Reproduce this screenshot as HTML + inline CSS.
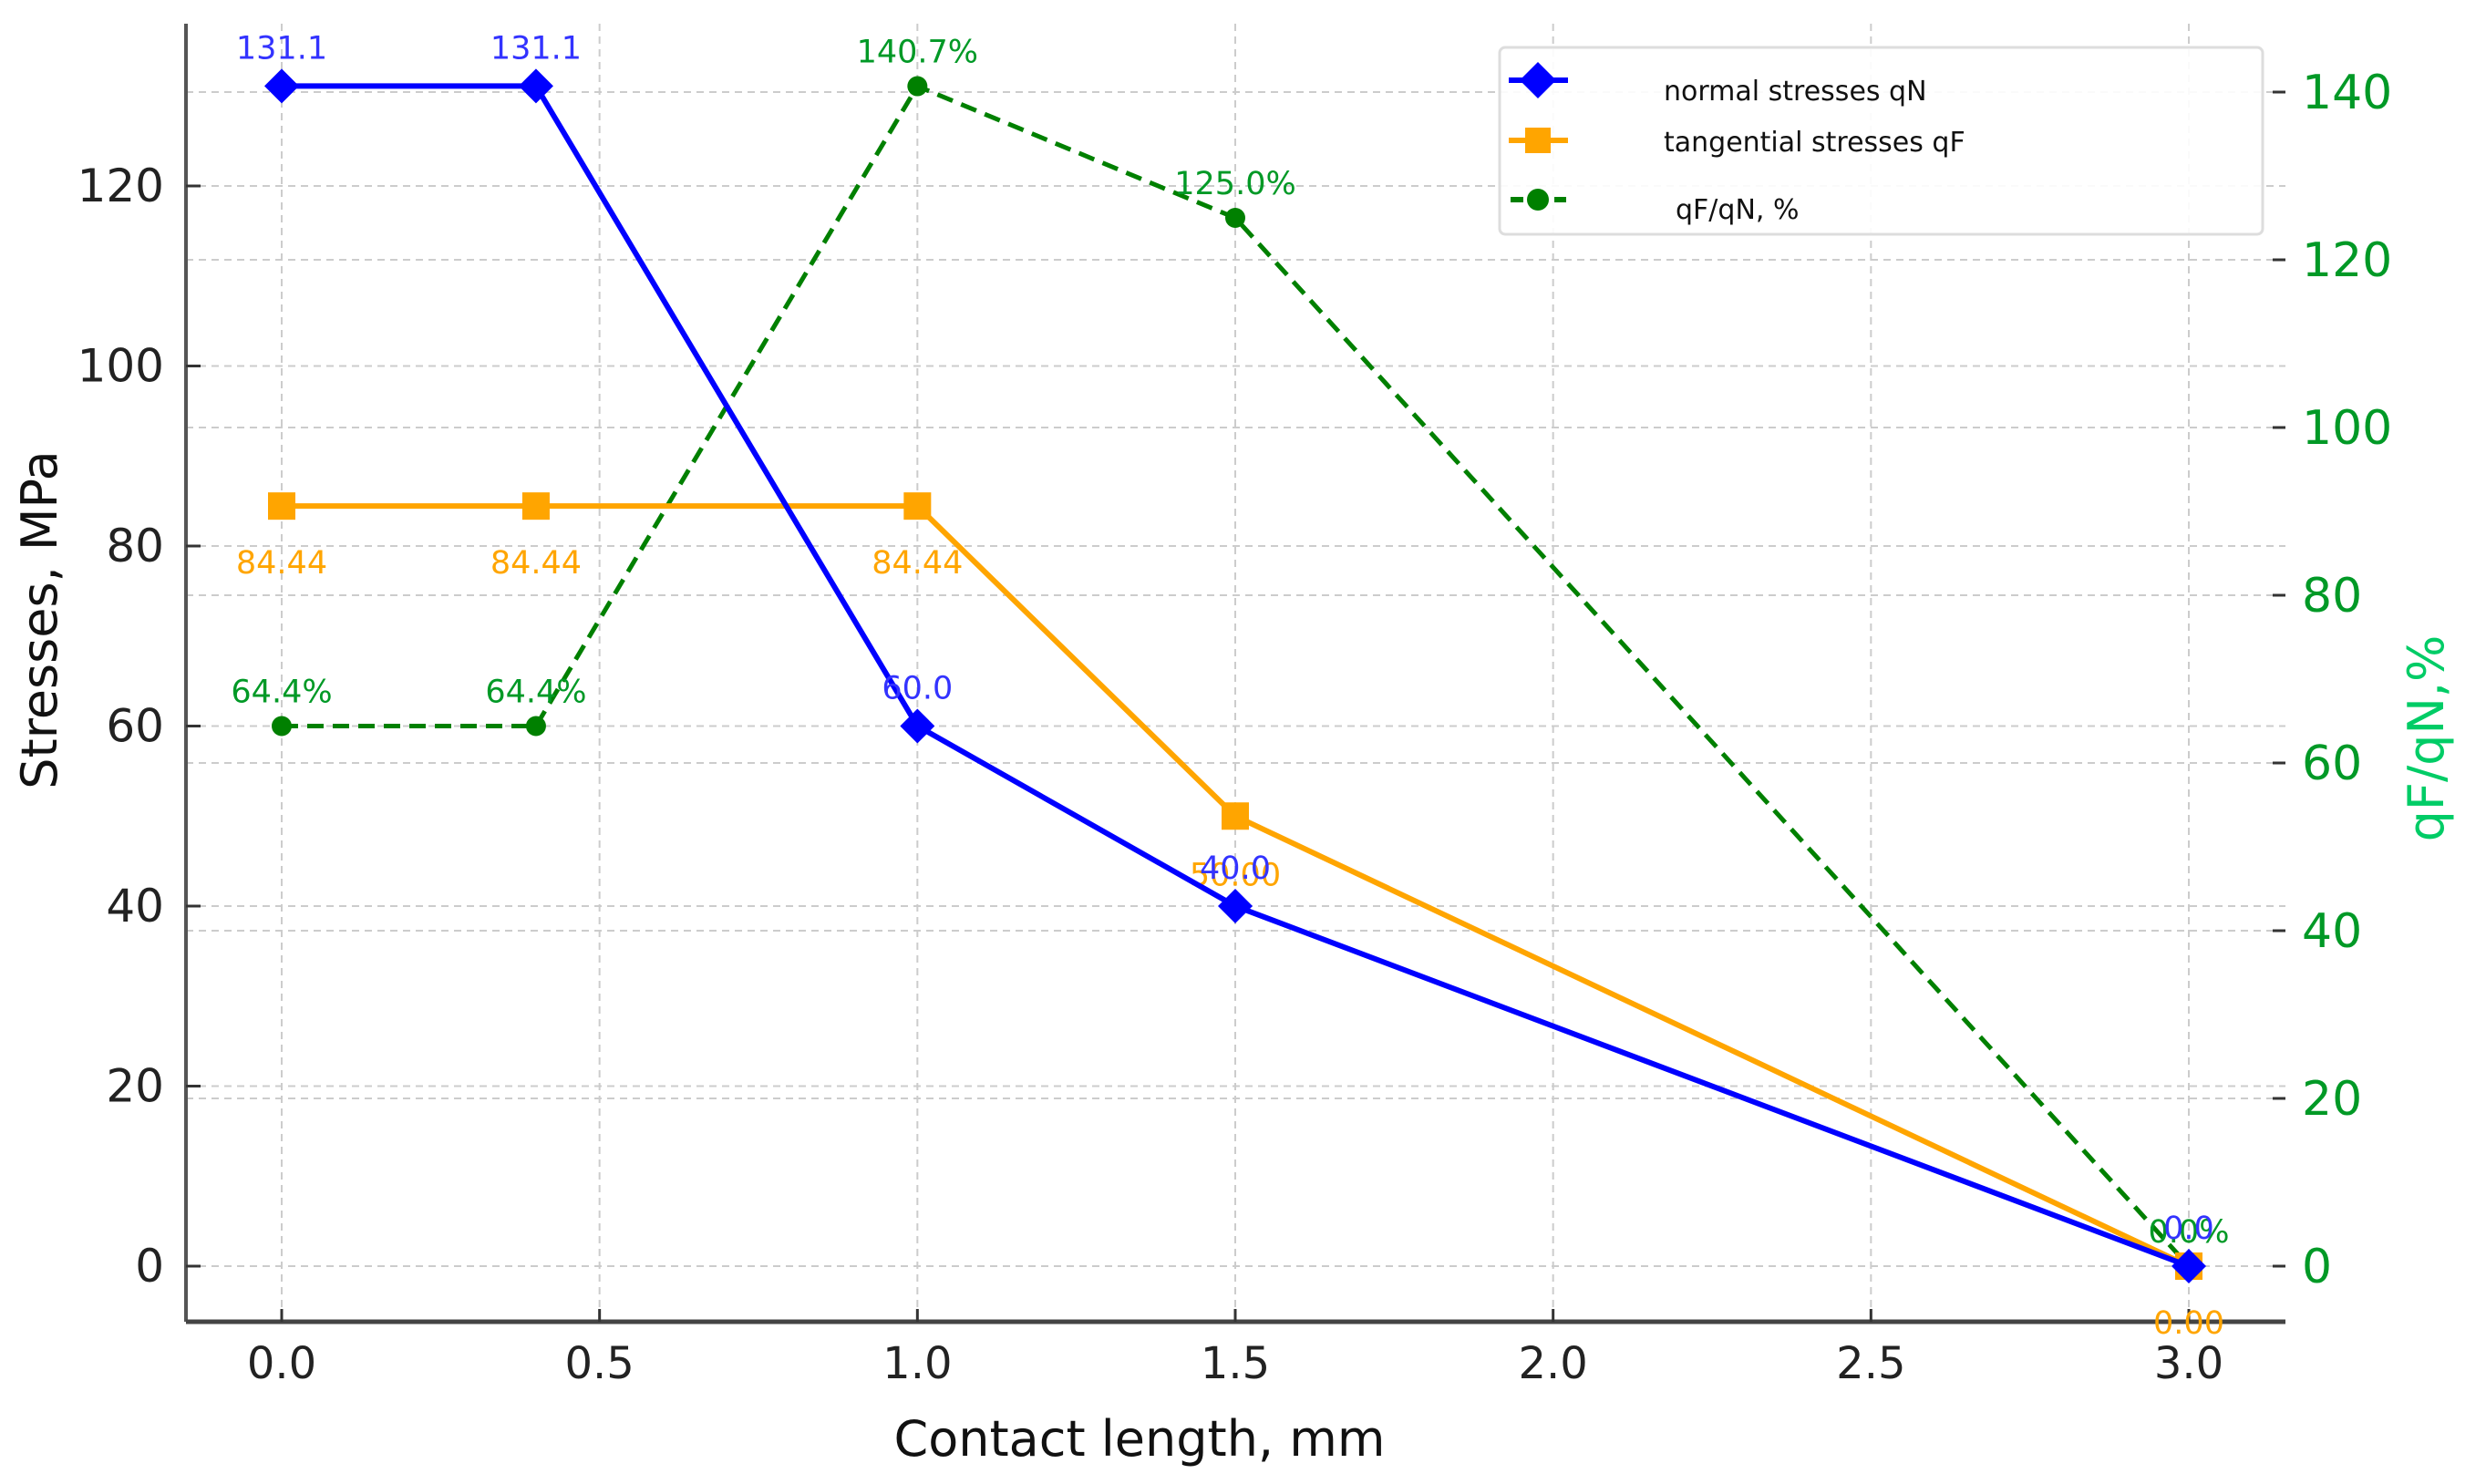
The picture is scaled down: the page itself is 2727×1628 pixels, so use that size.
<!DOCTYPE html>
<html><head><meta charset="utf-8"><style>
html,body{margin:0;padding:0;background:#fff;}
svg{display:block;font-family:"DejaVu Sans","Liberation Sans",sans-serif;}
</style></head><body>
<svg id="chart" width="2727" height="1628" viewBox="0 0 2727 1628" xmlns="http://www.w3.org/2000/svg"></svg>
<script>
const xValues = [0, 0.4, 1.0, 1.5, 3.0];
const normalStress = [131.1, 131.1, 60.0, 40.0, 0.0];
const tangentialStress = [84.44, 84.44, 84.44, 50.0, 0.0];
const ratioPercent = [64.4, 64.4, 140.7, 125.0, 0.0];
const xTicks = [0, 0.5, 1.0, 1.5, 2.0, 2.5, 3.0];
const leftTicks = [0, 20, 40, 60, 80, 100, 120];
const rightTicks = [0, 20, 40, 60, 80, 100, 120, 140];

const svg = document.getElementById('chart');
const NS = 'http://www.w3.org/2000/svg';
const PL = 204, PR = 2507, PT = 26, PB = 1450;
const X = v => 309 + (v - 0) * (2401 - 309) / 3;
const YL = v => 1389 - v * (1389 - 204) / 120;
const YR = v => 1389 - v * (1389 - 101) / 140;

function el(tag, attrs, parent) {
  const e = document.createElementNS(NS, tag);
  for (const k in attrs) e.setAttribute(k, attrs[k]);
  (parent || svg).appendChild(e);
  return e;
}
function txt(s, attrs, parent) { const t = el('text', attrs, parent); t.textContent = s; return t; }

// grid
const grid = el('g', {});


xTicks.forEach(v => el('line', {x1: X(v), x2: X(v), y1: PT, y2: PB, stroke: '#ccc', 'stroke-width': 2, 'stroke-dasharray': '8,6'}, grid));
leftTicks.forEach(v => el('line', {x1: PL, x2: PR, y1: YL(v), y2: YL(v), stroke: '#ccc', 'stroke-width': 2, 'stroke-dasharray': '8,6'}, grid));
rightTicks.forEach(v => el('line', {x1: PL, x2: PR, y1: YR(v), y2: YR(v), stroke: '#ccc', 'stroke-width': 2, 'stroke-dasharray': '8,6'}, grid));

// axes
const axes = el('g', {});


el('line', {x1: PL, x2: PL, y1: PT, y2: PB, stroke: '#555', 'stroke-width': 4}, axes);
el('line', {x1: PL, x2: PR, y1: PB, y2: PB, stroke: '#444', 'stroke-width': 5}, axes);

const xt = el('g', {});


xTicks.forEach(v => {
  el('line', {x1: X(v), x2: X(v), y1: PB - 14, y2: PB, stroke: '#333', 'stroke-width': 3}, xt);
  txt(v.toFixed(1), {x: X(v), y: 1512, 'font-size': 48, 'text-anchor': 'middle', fill: '#222'}, xt);
});
const lt = el('g', {});


leftTicks.forEach(v => {
  el('line', {x1: PL, x2: PL + 16, y1: YL(v), y2: YL(v), stroke: '#333', 'stroke-width': 3}, lt);
  txt(String(v), {x: 180, y: YL(v) + 17, 'font-size': 50, 'text-anchor': 'end', fill: '#222'}, lt);
});
const rt = el('g', {});


rightTicks.forEach(v => {
  el('line', {x1: PR - 14, x2: PR, y1: YR(v), y2: YR(v), stroke: '#333', 'stroke-width': 3}, rt);
  txt(String(v), {x: 2525, y: YR(v) + 18, 'font-size': 52, 'text-anchor': 'start', fill: '#009926'}, rt);
});

const xl = txt('Contact length, mm', {x: 1250, y: 1597, 'font-size': 54, 'text-anchor': 'middle', fill: '#111'});


const yl = txt('Stresses, MPa', {x: 0, y: 0, 'font-size': 54, 'text-anchor': 'middle', fill: '#111', transform: 'translate(62,680) rotate(-90)'});


const yr = txt('qF/qN,%', {x: 0, y: 0, 'font-size': 54, 'text-anchor': 'middle', fill: '#00cc66', transform: 'translate(2680,810) rotate(-90)'});



function diamond(cx, cy, r, fill, parent) {
  return el('polygon', {points: `${cx},${cy - r} ${cx + r},${cy} ${cx},${cy + r} ${cx - r},${cy}`, fill: fill}, parent);
}

// ratio series
const gR = el('g', {});


el('polyline', {points: xValues.map((x, i) => X(x) + ',' + YR(ratioPercent[i])).join(' '), fill: 'none', stroke: '#008000', 'stroke-width': 5, 'stroke-dasharray': '18,10'}, gR);
xValues.forEach((x, i) => {
  const c = el('circle', {cx: X(x), cy: YR(ratioPercent[i]), r: 11, fill: '#008000'}, gR);
  
  
  txt(ratioPercent[i].toFixed(1) + '%', {x: X(x), y: YR(ratioPercent[i]) - 26, 'font-size': 35, 'text-anchor': 'middle', fill: '#009926'}, gR);
});

// tangential series
const gF = el('g', {});


el('polyline', {points: xValues.map((x, i) => X(x) + ',' + YL(tangentialStress[i])).join(' '), fill: 'none', stroke: '#ffa500', 'stroke-width': 6}, gF);
xValues.forEach((x, i) => {
  const r = el('rect', {x: X(x) - 15, y: YL(tangentialStress[i]) - 15, width: 30, height: 30, fill: '#ffa500'}, gF);
  
  
  const lab = i < 3 ? tangentialStress[i].toFixed(2) : tangentialStress[i].toFixed(2);
  txt(lab, {x: X(x), y: YL(tangentialStress[i]) + (i === 3 ? 76 : 74), 'font-size': 35, 'text-anchor': 'middle', fill: '#ffa500'}, gF);
});

// normal series
const gN = el('g', {});


el('polyline', {points: xValues.map((x, i) => X(x) + ',' + YL(normalStress[i])).join(' '), fill: 'none', stroke: '#0000ff', 'stroke-width': 6}, gN);
xValues.forEach((x, i) => {
  const d = diamond(X(x), YL(normalStress[i]), 19, '#0000ff', gN);
  
  
  txt(normalStress[i].toFixed(1), {x: X(x), y: YL(normalStress[i]) - 30, 'font-size': 35, 'text-anchor': 'middle', fill: '#3333ff'}, gN);
});

// legend
const lg = el('g', {});


el('rect', {x: 1645, y: 52, width: 837, height: 205, rx: 6, fill: '#fff', 'fill-opacity': 0.9, stroke: '#ddd', 'stroke-width': 3}, lg);
const e1 = el('g', {}, lg);


el('line', {x1: 1655, x2: 1720, y1: 88, y2: 88, stroke: '#0000ff', 'stroke-width': 6}, e1);
diamond(1687, 88, 20, '#0000ff', e1);
txt('normal stresses qN', {x: 1825, y: 110, 'font-size': 30, fill: '#111'}, e1);
const e2 = el('g', {}, lg);


el('line', {x1: 1655, x2: 1720, y1: 154, y2: 154, stroke: '#ffa500', 'stroke-width': 6}, e2);
el('rect', {x: 1673, y: 140, width: 28, height: 28, fill: '#ffa500'}, e2);
txt('tangential stresses qF', {x: 1825, y: 166, 'font-size': 30, fill: '#111'}, e2);
const e3 = el('g', {}, lg);


el('line', {x1: 1657, x2: 1718, y1: 219, y2: 219, stroke: '#008000', 'stroke-width': 6, 'stroke-dasharray': '14,10'}, e3);
el('circle', {cx: 1687, cy: 219, r: 12, fill: '#008000'}, e3);
txt('qF/qN, %', {x: 1838, y: 240, 'font-size': 30, fill: '#111'}, e3);
</script>
</body></html>
